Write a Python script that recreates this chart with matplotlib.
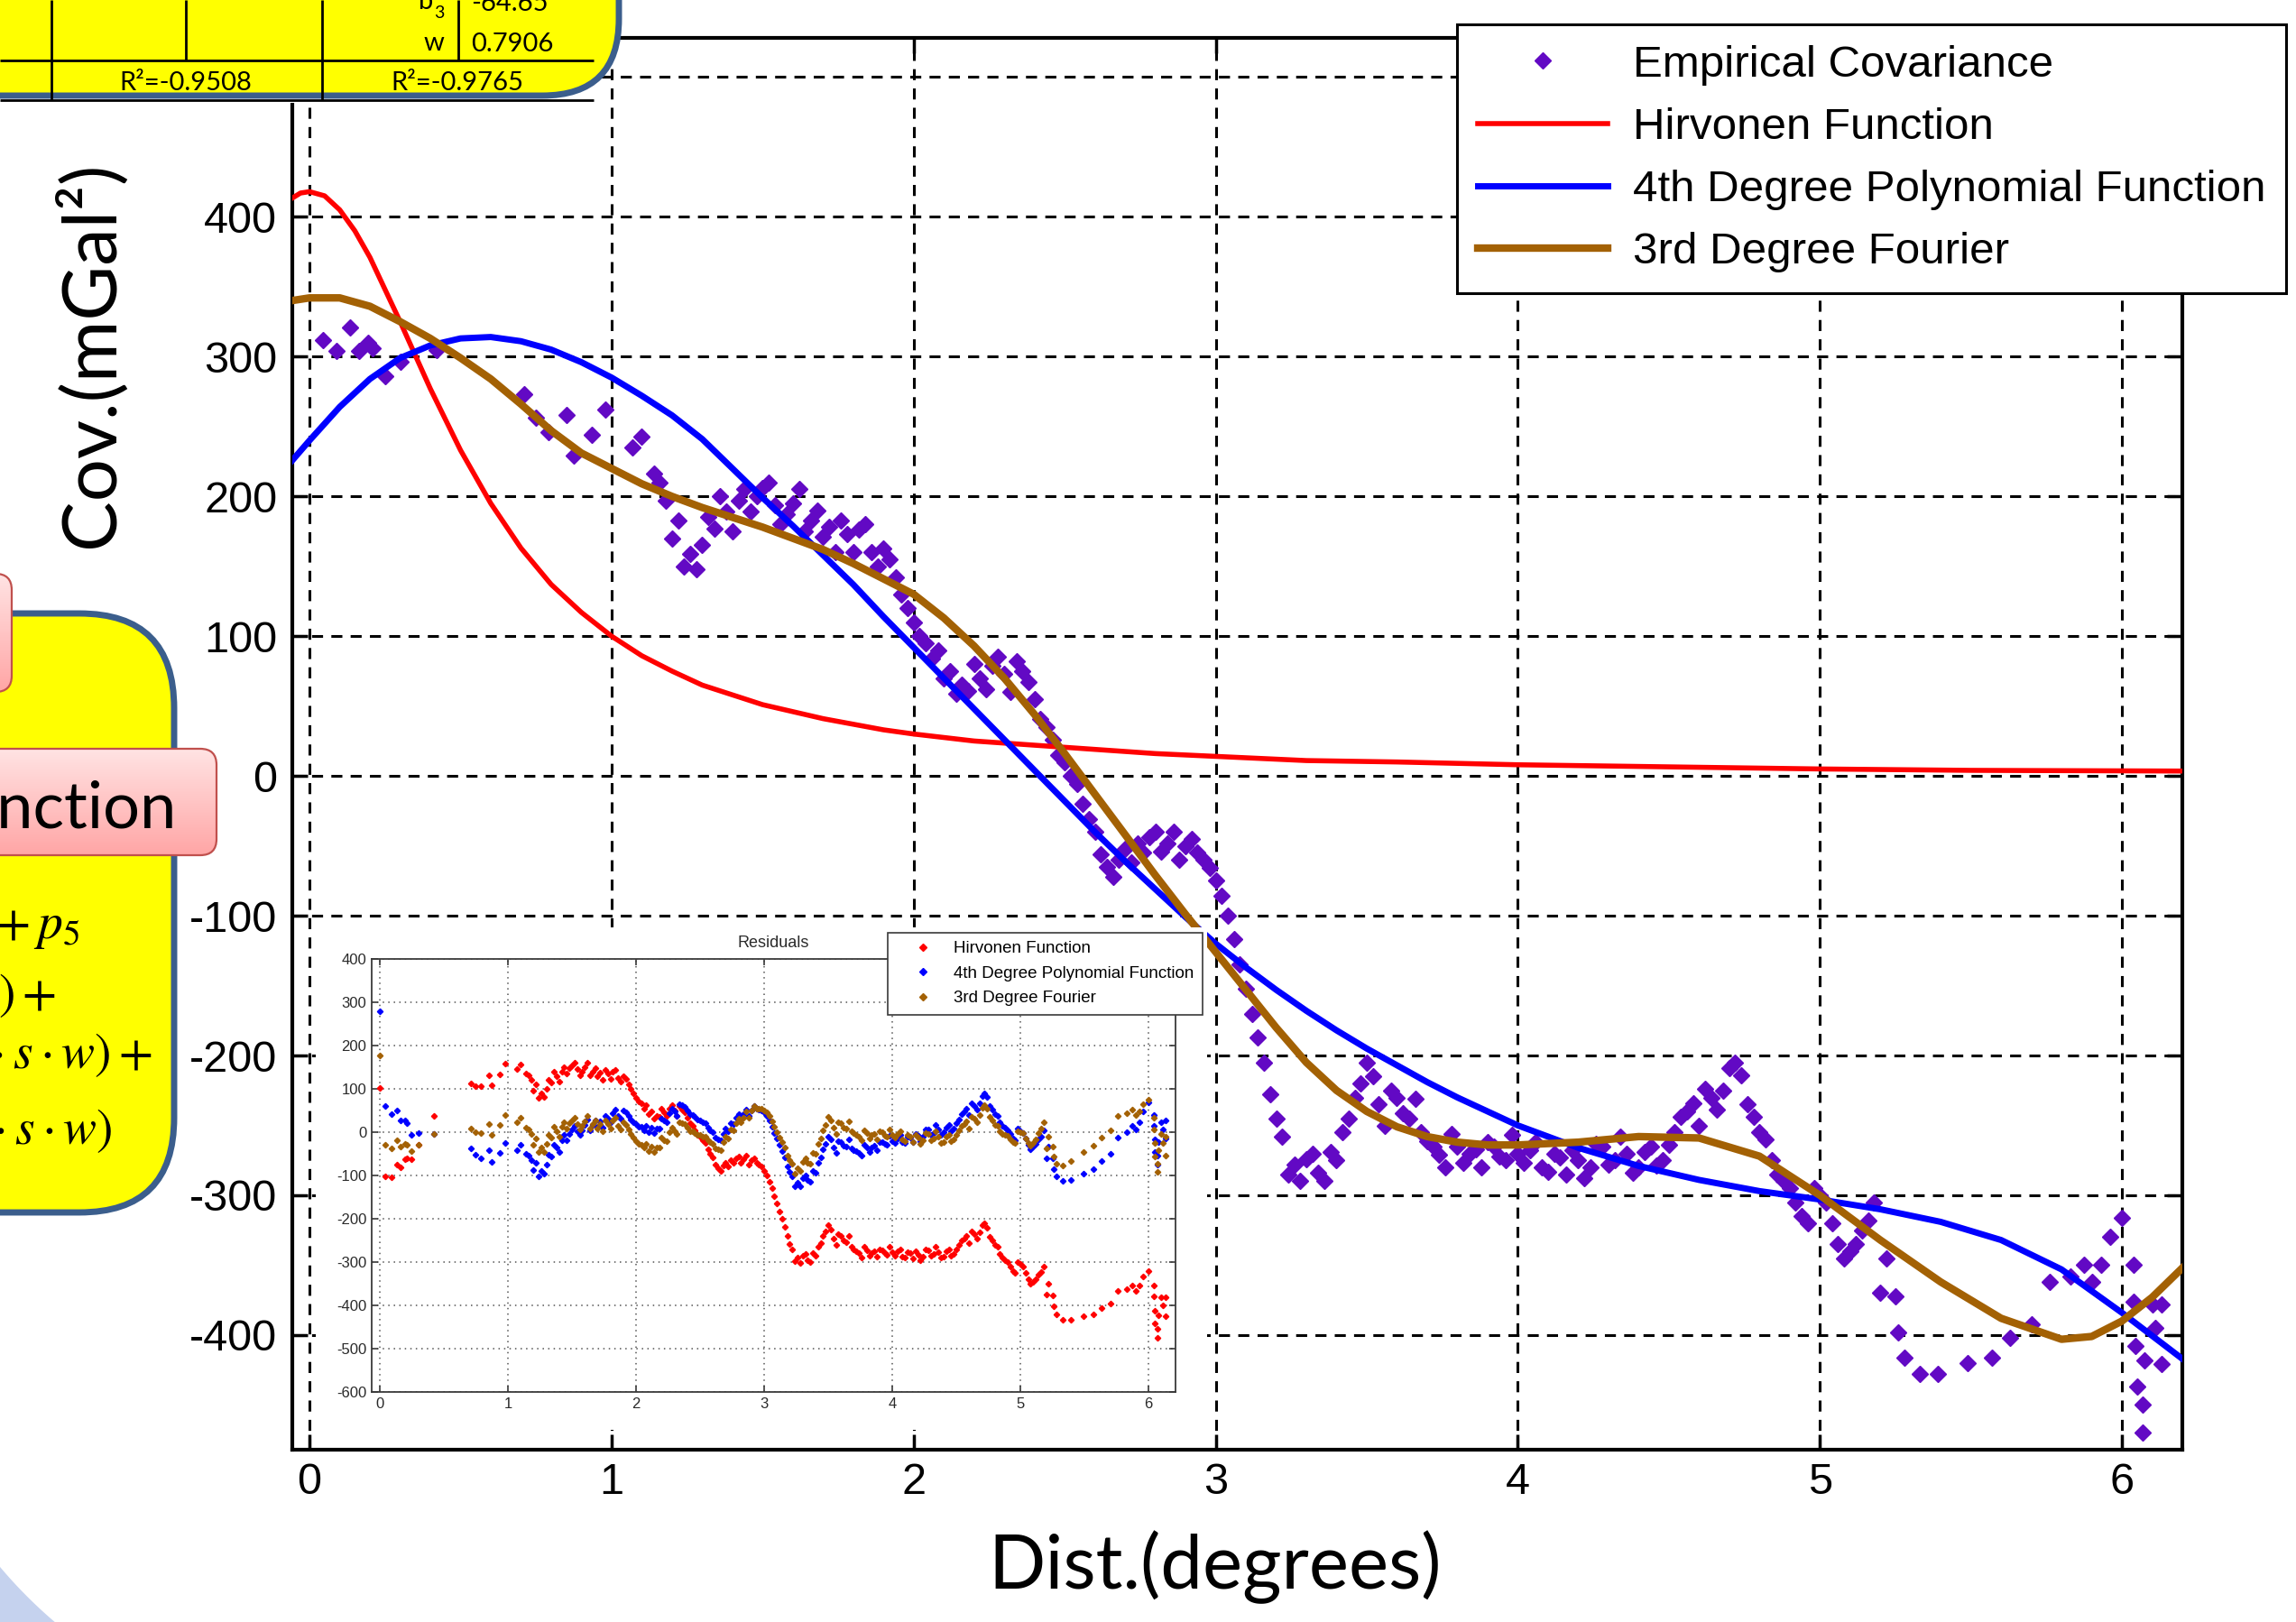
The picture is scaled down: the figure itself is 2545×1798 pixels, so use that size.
import matplotlib.pyplot as plt
import numpy as np
from matplotlib.patches import FancyBboxPatch, Rectangle, Polygon
from matplotlib.colors import LinearSegmentedColormap

plt.rcParams['font.family'] = ['Liberation Sans', 'DejaVu Sans']
plt.rcParams['mathtext.fontset'] = 'stix'
plt.rcParams['axes.unicode_minus'] = False

# ---------------- data ----------------
# empirical covariance (degrees, mGal^2)
emp_x = [0.0, 0.045, 0.09, 0.135, 0.165, 0.195, 0.21, 0.25, 0.30, 0.42,
         0.71, 0.75, 0.79, 0.85, 0.875, 0.935, 0.98, 1.07, 1.10,
         1.14, 1.18, 1.22, 1.26, 1.30, 1.34, 1.38, 1.42, 1.46, 1.50,
         1.54, 1.58, 1.62, 1.66, 1.70, 1.74, 1.78, 1.82, 1.86, 1.90,
         1.94, 1.98, 2.02, 2.06, 2.10, 2.14, 2.18, 2.22, 2.26, 2.30,
         2.34, 2.38, 2.42, 2.46, 2.50, 2.54, 2.58, 2.62, 2.66, 2.70,
         2.74, 2.78, 2.82, 2.86, 2.90, 2.94, 2.98, 3.02, 3.06, 3.10,
         3.14, 3.18, 3.22, 3.26, 3.30, 3.34, 3.38, 3.42, 3.46, 3.50,
         3.54, 3.58, 3.62, 3.66, 3.70, 3.74, 3.78, 3.82, 3.86, 3.90,
         3.94, 3.98, 4.02, 4.06, 4.10, 4.14, 4.18, 4.22, 4.26, 4.30,
         4.34, 4.38, 4.42, 4.46, 4.50, 4.54, 4.58, 4.62, 4.66, 4.70,
         4.74, 4.78, 4.82, 4.86, 4.90, 4.94, 4.98, 5.02, 5.06, 5.10,
         5.14, 5.18, 5.22,
         5.25, 5.26, 5.28, 5.33, 5.39, 5.49, 5.57, 5.63, 5.70, 5.76,
         5.83, 5.875, 5.90, 5.93, 5.96, 6.00, 6.04, 6.04, 6.045, 6.05,
         6.07, 6.075, 6.07, 6.10, 6.11, 6.13, 6.13,
         # second edge of the dense band
         1.16, 1.20, 1.24, 1.28, 1.32, 1.36, 1.40, 1.44, 1.48,
         1.52, 1.56, 1.60, 1.64, 1.68, 1.72, 1.76, 1.80, 1.84, 1.88, 1.92, 1.96,
         2.00, 2.04, 2.08, 2.12, 2.16, 2.20, 2.24, 2.28, 2.32, 2.36, 2.40, 2.44, 2.48,
         2.52, 2.56, 2.60, 2.64, 2.68, 2.72, 2.76, 2.80, 2.84, 2.88, 2.92, 2.96, 3.00,
         3.04, 3.08, 3.12, 3.16, 3.20, 3.24, 3.28, 3.32, 3.36, 3.40, 3.44, 3.48,
         3.52, 3.56, 3.60, 3.64, 3.68, 3.72, 3.76, 3.80, 3.84, 3.88,
         3.92, 3.96, 4.00, 4.04, 4.08, 4.12, 4.16, 4.20, 4.24, 4.28,
         4.32, 4.36, 4.40, 4.44, 4.48, 4.52, 4.56, 4.60, 4.64, 4.68,
         4.72, 4.76, 4.80, 4.84, 4.88, 4.92, 4.96, 5.00, 5.04, 5.08,
         5.12, 5.16, 5.20]
emp_y = [520, 312, 304, 321, 304, 310, 306, 286, 296, 305,
         273, 256, 246, 258, 229, 244, 262, 235, 243,
         216, 197, 183, 159, 165, 177, 189, 197, 189, 206,
         194, 187, 205, 183, 171, 160, 173, 176, 160, 163,
         142, 120, 100, 84, 70, 59, 61, 70, 79, 73,
         82, 67, 41, 26, 10, -6, -31, -56, -72, -52,
         -48, -44, -54, -40, -50, -55, -66, -86, -117, -152,
         -187, -228, -258, -278, -274, -284, -269, -255, -230, -205,
         -235, -225, -241, -231, -261, -271, -256, -277, -267, -262,
         -272, -257, -277, -262, -283, -273, -268, -288, -263, -278,
         -258, -284, -269, -279, -264, -244, -234, -224, -239, -209,
         -214, -244, -260, -285, -295, -315, -295, -305, -335, -340,
         -325, -305, -345,
         -372, -398, -416, -428, -428, -420, -416, -402, -392, -362,
         -358, -350, -362, -350, -330, -316, -350, -376, -408, -437,
         -450, -418, -470, -378, -395, -421, -378,
         210, 170, 150, 148, 185, 200, 175, 205, 200,
         210, 180, 195, 175, 190, 178, 183, 160, 180, 150, 155, 130,
         110, 95, 90, 75, 65, 80, 62, 85, 60, 75, 55, 35, 15,
         0, -20, -40, -65, -60, -62, -55, -40, -48, -60, -45, -60, -75,
         -100, -135, -170, -205, -245, -285, -290, -270, -290, -275, -245, -220,
         -215, -250, -230, -245, -255, -265, -280, -265, -270, -280,
         -265, -275, -270, -268, -280, -270, -285, -275, -280, -265,
         -275, -270, -280, -265, -275, -255, -240, -250, -230, -225,
         -205, -235, -255, -275, -290, -305, -320, -300, -320, -345,
         -335, -318, -370]

# residuals shown in the inset, one value per empirical point
res_hirv = [102, -103, -103.5, -74, -80.6, -62.8, -60.5, -62.5, -29, 37.5,
            112.7, 106.4, 106.2, 131.5, 107.5, 133.7, 159.1, 145.1, 157,
            135, 120, 110, 90, 100, 115, 130, 140, 135, 155,
            145, 140, 160, 140, 130, 120, 135, 140, 125, 130,
            110, 90, 70, 55, 42, 32, 35, 45, 55, 50,
            60, 45, 20, 5, -10, -25, -50, -75, -90, -70,
            -65, -60, -70, -55, -65, -70, -80, -100, -130, -165,
            -200, -240, -270, -290, -285, -295, -280, -265, -240, -215,
            -245, -235, -250, -240, -270, -280, -265, -285, -275, -270,
            -280, -265, -285, -270, -290, -280, -275, -295, -270, -285,
            -265, -290, -275, -285, -270, -250, -240, -230, -245, -215,
            -220, -250, -265, -290, -300, -320, -300, -310, -340, -345,
            -330, -310, -350,
            -376.5, -402.5, -420.5, -432.5, -432.5, -424.5, -420, -406, -396, -366,
            -362, -354, -366, -354, -334, -320, -354, -380, -412, -441,
            -454, -422, -474, -382, -399, -425, -382,
            131, 95, 79, 81, 121.4, 139.5, 117, 150, 147.5,
            160, 132, 149, 131, 148, 137.5, 144, 123, 144.5, 116, 122.5, 99,
            80, 66, 61.5, 47.5, 38.5, 55, 37.5, 61.5, 37, 53, 33, 14, -5.5,
            -19.5, -39, -58.5, -83, -77.5, -79, -71.5, -56, -63.5, -75, -60, -74.5, -89,
            -114, -148.5, -183, -218, -257.5, -297, -302, -281.5, -301, -286, -255.5, -230,
            -225, -260, -239.7, -254.5, -264.2, -274, -289, -273.8, -278.5, -288.5,
            -273.2, -283, -278, -276, -287.8, -277.5, -292.5, -282.3, -287, -272,
            -282, -276.8, -286.6, -271.5, -281.5, -261.4, -246.3, -256.2, -236, -231,
            -211, -240.8, -260.7, -280.5, -295.5, -310.4, -325.2, -305, -325, -350,
            -340, -323, -375]
res_poly = [280, 61.2, 42.4, 50, 27, 27, 20.5, -5.5, -3, -4,
            -37.4, -52, -59.6, -42.5, -69.3, -48.2, -25.2, -40.9, -29,
            -50.4, -63.8, -71.6, -88.8, -76, -55.6, -35.2, -18.8, -18.4, 7,
            3, 4, 30.2, 16.6, 13, 10.4, 31.8, 43.6, 36.8, 49,
            36.8, 23.6, 12.4, 5.2, 0, -2.2, 8.6, 26.4, 44.2, 47,
            64.8, 58.6, 41.4, 35.2, 28, 20.8, 4.6, -11.8, -19.4, 9,
            21, 33, 31, 53, 51, 53.6, 50.2, 37.4, 13.2, -15,
            -43.6, -78.2, -102, -116, -106, -110.4, -89.8, -70.4, -40.2, -10,
            -35.2, -20.4, -31.6, -16.8, -42, -47.6, -28.2, -45, -31, -22,
            -28, -9, -25.4, -7.2, -25, -11.8, -3.6, -20.7, 6.9, -5.5,
            17.1, -6.3, 11, 3, 20, 42, 54, 65.8, 52.4, 84,
            80.6, 52.2, 37.6, 13.8, 5, -13.8, 7.4, -1.3, -29.9, -33.5,
            -17.1, 4.3, -34.1,
            -60, -85.5, -102.5, -112, -109.5, -96, -86, -67, -49.5, -13,
            -0.5, 14, 6.5, 23, 48, 68, 40.6, 14.6, -16.6, -45,
            -54.5, -22, -74.5, 22.5, 7, -15.5, 27.5,
            -53.6, -88, -101.2, -96.4, -51.8, -28.4, -45, -6.6, -3.2,
            15, -7, 16, 4.4, 27.8, 24.2, 37.6, 23, 52.2, 31.4, 45.4, 29.2,
            18, 11.8, 15.6, 9.4, 8.2, 32, 22.8, 54.6, 38.4, 62.2, 51, 39.8, 28.6,
            22.4, 11.2, 0, -16.6, -3.2, 3, 18, 41, 41, 37, 59.8, 52.4, 45,
            26.8, -1.4, -29.8, -58.4, -92, -126, -125, -99.2, -113.6, -93, -57.8, -27.6,
            -17.6, -47.8, -23, -33.2, -38.4, -43.8, -54.4, -35, -36, -42,
            -23, -29, -20, -14.8, -23.6, -10.4, -22.2, -9, -11.4, 6.2,
            -1.2, 6.4, -1, 16, 8, 30, 47, 39, 60.6, 67.2,
            88.8, 60.4, 42, 23.2, 9.4, -4.4, -18.2, 3, -15.6, -39.2,
            -27.8, -9.4, -60]
res_four = [178, -30, -38, -18.9, -34.1, -26.3, -28.9, -44.5, -29, -5.2,
            8.9, -0.5, -2.9, 19, -6, 16.8, 39.8, 22.7, 34,
            10.6, -4.8, -15.4, -36.2, -27, -12.2, 2.6, 13.4, 8.2, 28,
            19.2, 15.4, 36.6, 17.8, 9, 2, 19, 26.2, 14.6, 22,
            5.4, -12.2, -26.6, -35.8, -43, -46, -36, -18.4, -0.2, 3,
            22.4, 17.8, 2.6, -1.2, -6, -10.4, -23.8, -37.2, -41.6, -10,
            5.6, 21.2, 22.6, 47.8, 49, 54.8, 54.6, 45.4, 25.2, 1,
            -23.2, -53.4, -73, -83, -69, -71, -48, -27, 4, 35,
            9.4, 23.8, 11.4, 24.2, -3, -11.4, 5.2, -14.6, -3.8, 2,
            -8, 7, -13.2, 1.4, -20, -10.4, -5.8, -26.4, -2.2, -18,
            1.2, -25.6, -11, -20.7, -5.5, 14.7, 24.9, 36.3, 23.9, 56.5,
            54.1, 26.7, 14.8, -4.6, -9, -23.4, 2.2, -1.8, -25.4, -24,
            -2.6, 23.8, -10,
            -32.5, -57, -72, -76.5, -67.5, -46.3, -32, -11.7, 3.5, 38,
            44.4, 51.5, 39, 48, 64.6, 74, 33.2, 7.2, -25.6, -55.5,
            -72.1, -41, -92.1, -5, -24, -54, -11,
            6.4, -30, -46.8, -45.6, -5.6, 12.2, -10, 22.8, 20.6,
            33.6, 6.8, 25, 8.2, 26.4, 18, 27, 8, 32.4, 6.8, 16.2, -4.4,
            -20, -28.2, -26.4, -34, -36, -13, -21.8, 10.4, -4.8, 20.6, 11, 2.2, -6.6,
            -10.2, -18.6, -27, -40.4, -23.8, -14.2, 4.4, 31, 34.2, 33.4, 59.4, 55.2, 51,
            36.8, 12.6, -11.6, -35.8, -65, -95, -90, -61, -73, -50, -14, 17,
            27.2, -3.4, 21, 8.8, 1.6, -6.2, -19.6, -3, -7.2, -16.4,
            -1, -11, -6, -4.4, -16.8, -7.2, -22.6, -13, -18.8, -4.6,
            -15.4, -11.2, -22, -6.8, -16.6, 3.6, 18.8, 9, 31.6, 39.2,
            61.8, 34.4, 17, 2.6, -6.8, -16.2, -25.6, 0, -13.6, -32.2,
            -15.8, 7.6, -38]

# fitted curves
hirv_x = [-0.06, -0.03, 0.0, 0.05, 0.1, 0.15, 0.2, 0.3, 0.4, 0.5, 0.6, 0.7, 0.8,
          0.9, 1.0, 1.1, 1.2, 1.3, 1.4, 1.5, 1.6, 1.7, 1.8, 1.9, 2.0, 2.2,
          2.4, 2.6, 2.8, 3.0, 3.3, 3.6, 4.0, 4.5, 5.0, 5.5, 6.2]
hirv_y = [413, 417, 418, 415, 405, 390, 371, 325, 277, 233, 195, 163, 137,
          117, 100, 86, 75, 65, 58, 51, 46, 41, 37, 33, 30, 25,
          22, 19, 16, 14, 11, 10, 8, 6.5, 5, 4, 3.5]

poly_x = [-0.06, 0.0, 0.1, 0.2, 0.3, 0.4, 0.5, 0.6, 0.7, 0.8, 0.9, 1.0,
          1.1, 1.2, 1.3, 1.4, 1.5, 1.6, 1.7, 1.8, 1.9, 2.0, 2.1, 2.2,
          2.3, 2.4, 2.5, 2.6, 2.7, 2.8, 2.9, 3.0, 3.1, 3.2, 3.3, 3.4,
          3.5, 3.6, 3.7, 3.8, 3.9, 4.0, 4.2, 4.4, 4.6, 4.8, 5.0, 5.2,
          5.4, 5.6, 5.8, 6.0, 6.2]
poly_y = [225, 240, 264, 284, 299, 308, 313, 314, 311, 305, 296, 285,
          272, 258, 241, 220, 199, 179, 158, 137, 114, 92, 70, 48,
          26, 4, -18, -40, -61, -81, -101, -120, -137, -153, -168, -182,
          -195, -207, -219, -230, -240, -250, -266, -279, -289, -297, -303, -310,
          -319, -332, -353, -384, -417]

four_x = [-0.06, 0.0, 0.1, 0.2, 0.3, 0.4, 0.5, 0.6, 0.7, 0.8, 0.9, 1.0,
          1.1, 1.2, 1.3, 1.4, 1.5, 1.6, 1.7, 1.8, 1.9, 2.0, 2.1, 2.2,
          2.3, 2.4, 2.5, 2.6, 2.7, 2.8, 2.9, 3.0, 3.1, 3.2, 3.3, 3.4,
          3.5, 3.6, 3.7, 3.8, 3.9, 4.0, 4.2, 4.4, 4.6, 4.8, 5.0, 5.2,
          5.4, 5.6, 5.8, 5.9, 6.0, 6.1, 6.2]
four_y = [340, 342, 342, 336, 325, 313, 299, 284, 266, 247, 231, 220,
          209, 200, 192, 185, 178, 170, 162, 152, 141, 130, 113, 93,
          70, 44, 16, -13, -42, -71, -99, -126, -153, -180, -205, -225,
          -240, -251, -258, -262, -264, -264, -262, -258, -259, -272, -300, -332,
          -362, -388, -403, -401, -390, -373, -352]

x_ticks = [0, 1, 2, 3, 4, 5, 6]
y_ticks = [-400, -300, -200, -100, 0, 100, 200, 300, 400, 500]
res_yticks = [-600, -500, -400, -300, -200, -100, 0, 100, 200, 300, 400]

labels = ['Empirical Covariance', 'Hirvonen Function',
          '4th Degree Polynomial Function', '3rd Degree Fourier']

PURPLE = '#6209c4'
RED = '#ff0000'
BLUE = '#0000ff'
BROWN = '#a36104'

W, H = 2545, 1798
fig = plt.figure(figsize=(W / 100, H / 100), dpi=100)
fig.patch.set_facecolor('white')


def fx(px):
    return px / W


def fy(py):
    return 1 - py / H


# ---------------- main axes ----------------
ax = fig.add_axes([fx(324), fy(1607), (2419 - 324) / W, (1607 - 42) / H])
ax.plot(emp_x, emp_y, 'D', color=PURPLE, mec=PURPLE, ms=9, label=labels[0], zorder=3)
ax.plot(hirv_x, hirv_y, '-', color=RED, lw=4, label=labels[1], zorder=4)
ax.plot(poly_x, poly_y, '-', color=BLUE, lw=5, label=labels[2], zorder=4)
ax.plot(four_x, four_y, '-', color=BROWN, lw=6, label=labels[3], zorder=5)

ax.set_xlim(-0.057, 6.2)
ax.set_ylim(-482, 528)
ax.set_xticks(x_ticks)
ax.set_yticks(y_ticks)
ax.grid(True, color='black', linestyle=(0, (4, 3)), linewidth=2.2)
ax.set_axisbelow(True)
for sp in ax.spines.values():
    sp.set_linewidth(3)
ax.tick_params(direction='in', length=12, width=2.5, top=True, right=True,
               labelsize=35)
ax.tick_params(axis='y', pad=12)
ax.tick_params(axis='x', pad=10)

leg = ax.legend(loc='upper left', bbox_to_anchor=(fx(1615), fy(27)),
                bbox_transform=fig.transFigure, borderaxespad=0,
                fontsize=35.5, handlelength=2.92, handletextpad=0.58,
                borderpad=0.46, labelspacing=0.49, fancybox=False,
                framealpha=1, edgecolor='black')
leg.get_frame().set_linewidth(2.2)
leg.set_zorder(10)

fig.text(fx(1347), fy(1737), 'Dist.(degrees)', family='Lato', fontsize=60,
         ha='center', va='center')
fig.text(fx(101), fy(393), 'Cov.(mGal²)', family='Lato', fontsize=60,
         ha='center', va='center', rotation=90)

# ---------------- slide decorations (pixel coordinates) ----------------
deco = fig.add_axes([0, 0, 1, 1], zorder=5)
deco.set_xlim(0, W)
deco.set_ylim(H, 0)
deco.axis('off')
deco.patch.set_visible(False)

YELLOW = '#ffff00'
FRAME = '#3b5e8c'
pink_cmap = LinearSegmentedColormap.from_list('pink', ['#ffe3e3', '#ffa6a6'])


def pink_box(x0, y0, x1, y1, z):
    box = FancyBboxPatch((x0, y0), x1 - x0, y1 - y0,
                         boxstyle='round,pad=0,rounding_size=18',
                         fc='none', ec='#c0504d', lw=1.6, zorder=z + 0.1)
    deco.add_patch(box)
    grad = np.linspace(0, 1, 64)[:, None]
    im = deco.imshow(grad, cmap=pink_cmap, extent=(x0, x1, y1, y0),
                     aspect='auto', origin='upper', zorder=z)
    im.set_clip_path(box)


# white background behind the inset picture
deco.add_patch(Rectangle((350, 1028), 988, 557, fc='white', ec='none', zorder=1))

# table at the top-left
deco.add_patch(Rectangle((0, 0), 662, 114, fc='white', ec='none', zorder=1))
deco.add_patch(FancyBboxPatch((-300, -300), 986, 406,
                              boxstyle='round,pad=0,rounding_size=85',
                              fc=YELLOW, ec=FRAME, lw=5, zorder=2))
deco.hlines([67, 111], 0, 658, color='black', lw=2, zorder=3)
deco.vlines([57, 357], 0, 111, color='black', lw=2, zorder=3)
deco.vlines([206, 508], 0, 67, color='black', lw=2, zorder=3)
tkw = dict(family='Lato', fontsize=21, va='baseline', zorder=4)
deco.text(480, 10, 'b', ha='right', **tkw)
deco.text(481, 20, '3', ha='left', family='Lato', fontsize=14, va='baseline', zorder=4)
deco.text(522, 12, '-64.65', ha='left', **tkw)
deco.text(492, 56, 'w', ha='right', **tkw)
deco.text(522, 57, '0.7906', ha='left', **tkw)
deco.text(206, 100, 'R²=-0.9508', ha='center', **tkw)
deco.text(507, 100, 'R²=-0.9765', ha='center', **tkw)

# formula panel on the left
deco.add_patch(FancyBboxPatch((-300, 680), 493, 664,
                              boxstyle='round,pad=0,rounding_size=105',
                              fc=YELLOW, ec=FRAME, lw=5, zorder=2))
pink_box(-300, 636, 13, 767, 3)
pink_box(-300, 830, 240, 948, 3)
deco.text(196, 917, 'Function', family='Lato', fontsize=52, ha='right',
          va='baseline', zorder=4)
fkw = dict(fontsize=40, ha='right', va='center', zorder=4)
deco.text(89, 1023, r'$p_1 s^4+p_2 s^3+p_3 s^2+p_4 s+p_5$', **fkw)
deco.text(62, 1104, r'$a_0+a_1\cos(s\cdot w)+b_1\sin(s\cdot w)+$', **fkw)
deco.text(169, 1170, r'$a_2\cos(2\cdot s\cdot w)+b_2\sin(2\cdot s\cdot w)+$', **fkw)
deco.text(125, 1253, r'$a_3\cos(3\cdot s\cdot w)+b_3\sin(3\cdot s\cdot w)$', **fkw)

# light swoosh at the bottom-left corner
ang = np.radians(np.linspace(143, 127, 30))
arc = np.column_stack([400 + 523 * np.cos(ang), 1400 + 523 * np.sin(ang)])
arc = np.vstack([arc, [[-30, 1830]]])
deco.add_patch(Polygon(arc, closed=True, fc='#c5d2ee', ec='none', zorder=1))

# ---------------- inset: residuals ----------------
ins = fig.add_axes([fx(412), fy(1543), (1303 - 412) / W, (1543 - 1063) / H], zorder=6)
ins.plot(emp_x, res_hirv, 'D', color=RED, mec=RED, ms=3.2, label='Hirvonen Function')
ins.plot(emp_x, res_poly, 'D', color=BLUE, mec=BLUE, ms=3.2,
         label='4th Degree Polynomial Function')
ins.plot(emp_x, res_four, 'D', color=BROWN, mec=BROWN, ms=3.2,
         label='3rd Degree Fourier')
ins.set_xlim(-0.063, 6.21)
ins.set_ylim(-600, 400)
ins.set_xticks(x_ticks)
ins.set_yticks(res_yticks)
ins.grid(True, color='#555555', linestyle=(0, (1, 3)), linewidth=1.1)
ins.set_axisbelow(True)
for sp in ins.spines.values():
    sp.set_color('#3a3a3a')
    sp.set_linewidth(1.3)
ins.tick_params(direction='in', length=5, width=1.2, colors='#3a3a3a',
                labelcolor='#2a2a2a', labelsize=12, top=True, right=True, pad=4)
ins.set_title('Residuals', fontsize=13, color='#2a2a2a', pad=9)
ileg = ins.legend(loc='upper left', bbox_to_anchor=(fx(984), fy(1034)),
                  bbox_transform=fig.transFigure, borderaxespad=0,
                  fontsize=13.5, handlelength=3.2, handletextpad=0.2,
                  borderpad=0.5, labelspacing=0.55, fancybox=False,
                  framealpha=1, edgecolor='#3a3a3a', markerscale=1.2)
ileg.get_frame().set_linewidth(1.2)

fig.savefig('out.png', dpi=100)
